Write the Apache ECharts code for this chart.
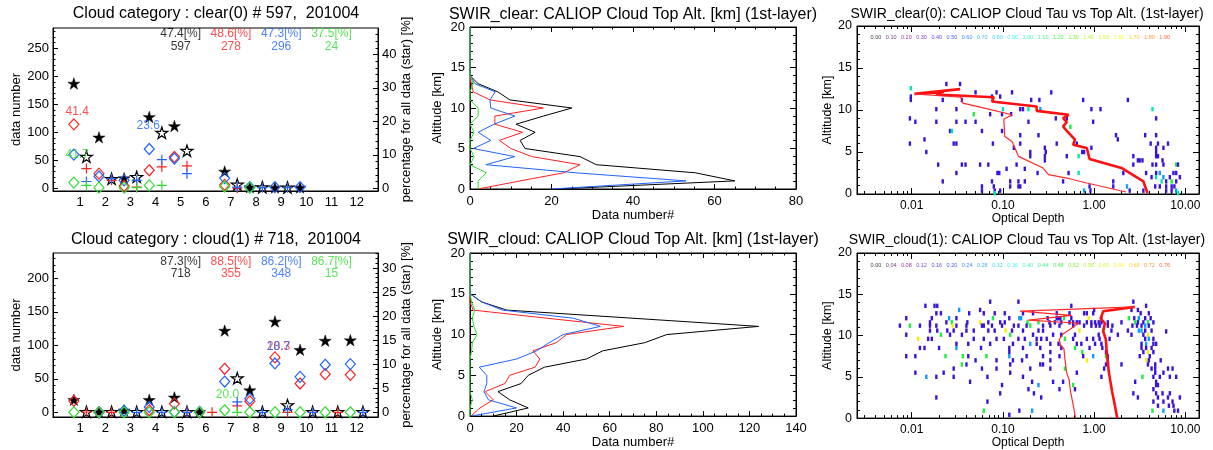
<!DOCTYPE html>
<html>
<head>
<meta charset="utf-8">
<title>CALIOP cloud category statistics</title>
<script src="https://cdn.jsdelivr.net/npm/echarts@6.0.0/dist/echarts.min.js"></script>
<style>
html,body{margin:0;padding:0;background:#ffffff;}
#chart{width:1213px;height:450px;}
</style>
</head>
<body>
<div id="chart"></div>
<script>
const FONT = '"Liberation Sans", Arial, Helvetica, sans-serif';

// ================= DATA =================
const categories = [1,2,3,4,5,6,7,8,9,10,11,12];

// clear(0)  (stars in %, right axis; diamonds / pluses in data number, left axis)
const clearStarAll   = [31.3,15.2,3.0,21.3,18.6,null,5.0,0.3,0.2,0.2,null,null];
const clearStarSub   = [9.4,2.8,3.4,16.6,11.2,null,1.1,0.3,0.2,null,null,null];
const clearDiaRed    = [114,26,4,32,56,null,6,null,null,null,null,null];
const clearDiaBlue   = [60,21,14,70,53,null,18,2,2,2,null,null];
const clearDiaGreen  = [10,1,1,5,null,null,3,1,null,null,null,null];
const clearPlusRed   = [35,14,2,38,40,null,0,null,null,null,null,null];
const clearPlusBlue  = [12,17,14,51,26,null,2,1,1,null,null,null];
const clearPlusGreen = [5,null,1,5,null,null,null,null,null,null,null,null];
const clearHeadPct   = ['47.4[%]','48.6[%]','47.3[%]','37.5[%]'];
const clearHeadNum   = ['597','278','296','24'];
const clearMaxPct    = {red:'41.4', blue:'23.6', green:'41.7'};

// cloud(1)
const cloudStarAll   = [2.6,0.1,0.4,2.6,3.1,0.1,17.0,4.6,18.9,13.0,14.9,15.0];
const cloudStarSub   = [0.1,0.1,0.1,0.1,0.1,null,7.1,0.1,1.5,0.1,0.1,0.1];
const cloudDiaRed    = [17,0,null,3,13,0,65,16.5,82,43,57,56];
const cloudDiaBlue   = [null,0,2.5,8,0.5,0.5,46,20.5,73,53,71,72];
const cloudDiaGreen  = [0,0,0,0,0,0,3,0,0,0,0,0];
const cloudPlusRed   = [0.5,0,null,null,0,0,9.5,null,0,0,0,null];
const cloudPlusBlue  = [null,null,0,0,0,null,15.5,0,4,0,null,0];
const cloudPlusGreen = [null,null,null,null,null,null,0,null,null,null,null,null];
const cloudHeadPct   = ['87.3[%]','88.5[%]','86.2[%]','86.7[%]'];
const cloudHeadNum   = ['718','355','348','15'];
const cloudMaxPct    = {red:'20.3', blue:'18.7', green:'20.0'};

// middle panels: CALIOP cloud top altitude histograms
const altitudes      = [0,1,2,3,4,5,6,7,8,9,10,11,12,13,14,15,16,17,18,19,20];
const clearAltAll    = [21,65,55.3,31,27,13.5,12.3,16,11.3,18,25,9.8,6.8,2.0,0,0,0,0,0,0,0];
const clearAltRed    = [2.0,12.3,23,27,15.2,10,7.2,12.9,6.1,6.1,18,4.9,0.8,0.3,0,0,0,0,0,0,0];
const clearAltBlue   = [20,53,26,3.9,11,0.8,5.1,2,5.9,11,5.1,4.9,6.2,1.2,0,0,0,0,0,0,0];
const clearAltGreen  = [2,2,4,0,1,0,0,1,0,2,2,0,0,0.8,0,0,0,0,0,0,0];
const cloudAltAll    = [10,25,17,12,22,25,32,50,57,75,84.5,124,70,15.8,5,0,0,0,0,0,0];
const cloudAltRed    = [0.4,4.3,10,6.5,15,17,28,30,27,37,41.5,66,33,1.4,0,0,0,0,0,0,0];
const cloudAltBlue   = [0.5,20,7.9,6,7.2,7.2,4,20,28.6,34,40,56,44.4,14,5,0,0,0,0,0,0];
const cloudAltGreen  = [0,0,1,0,0,0,0,0,0.7,1,3,1.7,1,2,0.7,0,0,0,0,0,0];

// right panels: tau vs top altitude, x stored as log10(optical depth)
// cells: [log10(tau), altitude km, colour level 1..5]
const clearCells = [
 [-1.62,13.1,1],[-1.47,13.1,1],
 [-2.01,12.6,3],
 [-1.30,12.1,1],[-1.07,12.1,1],[-0.90,12.1,1],[-0.47,12.1,1],
 [-2.01,11.6,1],[-1.12,11.6,1],[-1.03,11.6,1],
 [-2.01,11.2,1],[-1.66,11.2,1],[-1.45,11.2,1],[-0.69,11.2,1],[-0.60,11.2,1],[-0.12,11.2,1],[0.37,11.2,1],
 [-1.73,10.1,1],[-1.51,10.1,1],[-1.00,10.1,3],[-0.81,10.1,1],[-0.78,10.1,1],[-0.72,10.1,3],[-0.59,10.1,2],[-0.03,10.1,1],[0.07,10.1,1],[0.64,10.1,3],
 [-1.32,9.5,4],[-1.14,9.5,1],[-1.01,9.5,1],[-0.91,9.5,1],
 [-2.02,9.0,1],[-0.42,9.0,1],[-0.30,9.0,1],[0.68,9.0,1],
 [-1.96,8.6,1],[-1.73,8.6,1],[-1.51,8.6,1],[-1.41,8.6,1],[-1.30,8.6,1],[-0.72,8.6,1],[-0.01,8.6,1],
 [-0.26,8.0,4],
 [-1.58,7.5,1],[-1.56,7.5,3],[-1.23,7.5,1],[-1.01,7.5,1],
 [-0.81,7.0,1],[-0.61,7.0,1],[0.24,7.0,1],[0.56,7.0,1],[0.68,7.0,1],
 [-1.86,6.5,1],[0.26,6.5,1],
 [-2.02,6.0,1],[-1.54,6.0,1],[-1.51,6.0,1],[-1.11,6.0,1],[-0.81,6.0,1],[-0.41,6.0,1],[-0.19,6.0,1],[0.62,6.0,1],[0.70,6.0,1],[0.81,6.0,1],
 [-0.88,5.5,1],[-0.54,5.5,1],[-0.03,5.5,1],[0.68,5.5,1],[0.76,5.5,1],
 [-1.84,5.0,1],[-0.70,5.0,1],[-0.53,5.0,1],[-0.13,5.0,1],[-0.11,5.0,1],[0.68,5.0,1],
 [-0.70,4.5,1],[-0.54,4.5,1],[-0.30,4.5,1],[-0.17,4.5,3],[0.43,4.5,1],[0.68,4.5,1],[0.70,4.5,1],
 [-0.54,4.0,1],[0.48,4.0,1],[0.50,4.0,1],[0.53,4.0,1],[0.75,4.0,1],
 [-1.71,3.5,1],[-1.45,3.5,1],[-1.41,3.5,1],[-1.25,3.5,1],[-1.16,3.5,1],[-0.85,3.5,1],[0.43,3.5,1],[0.64,3.5,1],[0.68,3.5,1],[0.76,3.5,1],[0.90,3.5,4],[0.92,3.5,1],
 [-0.96,3.0,1],[-0.76,3.0,1],
 [-1.51,2.5,1],[-1.06,2.5,1],[-1.04,2.5,1],[-0.62,2.5,1],[-0.28,2.5,1],[-0.17,2.5,3],[0.32,2.5,1],[0.57,2.5,1],[0.68,2.5,1],[0.72,2.5,2],[0.87,2.5,1],[0.90,2.5,1],
 [0.63,2.0,1],[0.68,2.0,3],[0.76,2.0,2],[0.83,2.0,1],[0.94,2.0,1],
 [-1.66,1.5,1],[-1.12,1.5,1],[-0.92,1.5,1],[-0.83,1.5,1],[-0.76,1.5,1],[-0.34,1.5,1],[0.21,1.5,1],[0.74,1.5,3],[0.79,1.5,1],[0.85,1.5,4],[0.90,1.5,1],
 [-1.23,0.9,1],[-1.10,0.9,1],[-0.92,0.9,1],[-0.83,0.9,1],[-0.81,0.9,1],[-0.05,0.9,1],[0.21,0.9,1],[0.36,0.9,2],[0.67,0.9,1],[0.72,0.9,1],[0.79,0.9,1],[0.85,0.9,1],[0.88,0.9,1],
 [-1.23,0.4,1],[-1.09,0.4,1],[-1.03,0.4,1],[-0.11,0.4,2],[-0.04,0.4,1],[0.39,0.4,1],[0.54,0.4,1],[0.79,0.4,1],[0.85,0.4,1],[0.90,0.4,2],
 [-1.09,0.1,3],[0.92,0.1,3]
];
const cloudCells = [
 [-1.14,14.1,1],[-0.83,14.1,1],[0.43,14.1,1],
 [-1.85,13.6,1],[-1.75,13.6,1],[-1.72,13.6,1],[-0.25,13.6,1],[0.57,13.6,1],
 [-1.48,13.1,2],[-1.25,13.1,1],[0.00,13.1,1],[0.41,13.1,1],[0.48,13.1,1],
 [-1.73,12.7,1],[-1.68,12.7,1],[-1.37,12.7,1],[-1.21,12.7,1],[-1.09,12.7,1],[-0.98,12.7,1],[-0.78,12.7,1],[-0.67,12.7,1],[-0.41,12.7,1],[-0.27,12.7,1],[-0.11,12.7,1],[-0.08,12.7,1],[-0.01,12.7,1],[0.51,12.7,1],[0.60,12.7,1],
 [-2.06,12.1,1],[-1.78,12.1,1],[-1.59,12.1,2],[-1.51,12.1,1],[-1.11,12.1,4],[-0.93,12.1,1],[-0.82,12.1,2],[-0.80,12.1,2],[-0.51,12.1,1],[-0.41,12.1,1],[-0.39,12.1,1],[-0.37,12.1,1],[-0.33,12.1,4],[-0.25,12.1,1],[-0.06,12.1,5],[0.08,12.1,1],[0.38,12.1,4],[0.44,12.1,1],[0.49,12.1,2],[0.56,12.1,1],[0.62,12.1,1],
 [-1.80,11.6,1],[-1.62,11.6,1],[-1.56,11.6,4],[-1.39,11.6,1],[-1.25,11.6,5],[-1.16,11.6,1],[-1.03,11.6,1],[-0.98,11.6,1],[-0.73,11.6,4],[-0.61,11.6,4],[-0.49,11.6,1],[-0.43,11.6,1],[-0.36,11.6,1],[-0.27,11.6,1],[-0.23,11.6,1],[-0.19,11.6,1],[-0.16,11.6,1],[-0.08,11.6,1],[-0.03,11.6,1],[0.01,11.6,1],[0.05,11.6,1],[0.08,11.6,1],[0.15,11.6,1],[0.30,11.6,1],[0.45,11.6,4],[0.48,11.6,1],[0.54,11.6,1],[0.59,11.6,4],[0.65,11.6,1],
 [-2.13,11.2,1],[-2.02,11.2,4],[-1.91,11.2,1],[-1.80,11.2,1],[-1.73,11.2,1],[-1.55,11.2,5],[-1.51,11.2,1],[-1.40,11.2,1],[-1.23,11.2,1],[-1.21,11.2,1],[-1.12,11.2,1],[-1.01,11.2,1],[-0.88,11.2,1],[-0.83,11.2,1],[-0.74,11.2,1],[-0.70,11.2,4],[-0.56,11.2,1],[-0.48,11.2,1],[-0.38,11.2,1],[-0.23,11.2,1],[-0.11,11.2,1],[-0.03,11.2,1],[0.02,11.2,1],[0.06,11.2,1],[0.15,11.2,1],[0.20,11.2,1],[0.42,11.2,1],[0.47,11.2,1],[0.52,11.2,1],[0.56,11.2,2],[0.60,11.2,1],
 [-1.80,10.6,1],[-1.72,10.6,1],[-1.61,10.6,1],[-1.54,10.6,1],[-1.40,10.6,1],[-1.32,10.6,1],[-1.16,10.6,1],[-1.09,10.6,1],[-0.97,10.6,5],[-0.90,10.6,1],[-0.78,10.6,1],[-0.61,10.6,1],[-0.56,10.6,1],[-0.16,10.6,5],[0.10,10.6,4],[0.19,10.6,1],[0.37,10.6,1],[0.49,10.6,2],[0.52,10.6,2],[0.56,10.6,1],[0.63,10.6,1],[0.79,10.5,1],
 [-2.06,10.1,1],[-1.68,10.1,4],[-1.58,10.1,1],[-1.45,10.1,1],[-0.92,10.1,4],[-0.67,10.1,1],[-0.45,10.1,1],[-0.36,10.1,1],[-0.21,10.1,1],[0.05,10.1,1],[0.26,10.1,1],[0.41,10.1,1],[0.54,10.1,1],[0.59,10.1,5],
 [-1.93,9.6,5],[-1.82,9.6,1],[-1.78,9.6,1],[-1.32,9.6,1],[-1.21,9.6,1],[-1.07,9.6,1],[-0.99,9.6,1],[-0.83,9.6,1],[-0.76,9.6,1],[-0.63,9.6,1],[-0.58,9.6,1],[-0.52,9.6,1],[-0.32,9.6,4],[-0.23,9.6,1],[-0.08,9.6,1],[-0.01,9.6,1],[0.06,9.6,1],[0.17,9.6,1],[0.56,9.6,1],[0.60,9.6,2],[0.65,9.6,1],
 [-1.51,9.0,1],[-1.38,9.0,1],[-1.14,9.0,1],[-0.89,9.0,1],[-0.70,9.0,2],[-0.63,9.0,1],[-0.48,9.0,1],[-0.39,9.0,1],[-0.19,9.0,1],[-0.14,9.0,1],[0.01,9.0,1],[0.08,9.0,1],[0.52,9.0,1],[0.57,9.0,2],[0.65,9.0,1],[0.68,9.0,1],
 [-1.91,8.5,1],[-1.86,8.5,1],[-1.70,8.5,1],[-1.51,8.5,2],[-1.24,8.5,1],[-0.93,8.5,1],[-0.78,8.5,1],[-0.59,8.5,1],[-0.36,8.5,1],[-0.21,8.5,4],[-0.05,8.5,1],[0.09,8.5,1],[0.52,8.5,1],[0.57,8.5,1],[0.63,8.5,1],
 [-0.93,8.0,1],[-0.48,8.0,1],[-0.13,8.0,4],[0.13,8.0,1],[0.54,8.0,1],[0.59,8.0,5],[0.65,8.0,1],
 [-2.06,7.5,1],[-1.96,7.5,1],[-1.63,7.5,4],[-1.44,7.5,4],[-1.38,7.5,1],[-1.18,7.5,4],[-0.93,7.5,2],[-0.74,7.5,1],[-0.56,7.5,1],[-0.38,7.5,1],[-0.12,7.5,1],[-0.01,7.5,2],[0.13,7.5,4],[0.15,7.5,1],[0.50,7.5,1],[0.61,7.5,1],
 [-1.30,7.0,1],[-1.07,7.0,1],[-0.89,7.0,1],[-0.79,7.0,1],[-0.48,7.0,1],[-0.08,7.0,5],[0.15,7.0,1],[0.57,7.0,5],[0.60,7.0,1],[0.73,7.0,1],
 [-1.45,6.5,4],[-1.40,6.5,1],[-0.92,6.5,1],[-0.59,6.5,1],[-0.56,6.5,1],[0.13,6.5,1],[0.30,6.5,1],[0.59,6.5,1],[0.67,6.5,1],
 [-1.54,6.0,1],[-1.23,6.0,1],[-1.07,6.0,1],[-0.70,6.0,1],[-0.48,6.0,1],[-0.32,6.0,4],[0.11,6.0,1],[0.63,6.0,1],[0.67,6.0,1],[0.81,6.0,1],[0.86,6.0,1],
 [-1.96,5.5,1],[-1.65,5.5,1],[-0.92,5.5,1],[-0.19,5.5,1],[0.67,5.5,1],[0.76,5.5,1],
 [-1.84,5.0,2],[-1.73,5.0,1],[-1.54,5.0,1],[-1.17,5.0,1],[-0.78,5.0,1],[0.08,5.0,1],[0.53,5.0,4],[0.65,5.0,1],[0.72,5.0,1],[0.83,5.0,1],[0.90,5.0,1],
 [-1.36,4.4,1],[-0.68,4.4,1],[-0.45,4.4,1],[-0.34,4.4,1],[0.45,4.4,1],[0.68,4.4,1],
 [-1.01,4.0,1],[-0.61,4.0,2],[-0.23,4.0,4],[0.68,4.0,1],[0.70,4.0,1],
 [-0.72,3.5,1],[-0.38,3.5,1],[-0.21,3.5,1],[0.65,3.5,1],
 [-1.03,3.0,1],[-0.66,3.0,1],[0.43,3.0,1],[0.68,3.0,1],[0.75,3.0,1],[0.83,3.0,1],
 [-1.73,2.5,1],[-0.58,2.5,1],[0.48,2.5,1],[0.70,2.5,1],[0.81,2.5,1],[0.94,2.5,1],
 [-1.17,2.0,1],[0.65,2.0,1],[0.76,2.0,1],[0.86,2.0,1],
 [0.70,1.5,1],[0.82,1.5,1],[0.87,1.5,1],
 [-1.21,0.9,4],[-0.82,0.9,1],[-0.68,0.9,2],[0.64,0.9,4],[0.76,0.9,2],[0.88,0.9,1],[0.92,0.9,1],
 [-0.93,0.4,1]
];
// red profile lines: [log10(tau), altitude]
const clearTauMean = [[-1.47,12.48],[-1.97,11.92],[-1.65,12.16],[-1.73,11.84],[-1.10,11.52],[-1.12,11.01],[-0.63,10.42],[-0.63,9.90],[-0.28,9.43],[-0.34,9.03],[-0.30,8.55],[-0.34,8.04],[-0.30,7.52],[-0.21,6.46],[-0.23,5.86],[-0.08,5.47],[-0.05,4.16],[0.30,3.10],[0.54,1.50],[0.585,0.12]];
const clearTauMedian = [[-1.97,11.92],[-1.46,11.52],[-1.44,10.81],[-1.25,10.34],[-0.90,9.43],[-0.99,8.91],[-0.98,6.85],[-0.90,6.26],[-0.86,5.27],[-0.83,4.48],[-0.56,3.09],[-0.50,2.30],[-0.30,1.90],[-0.08,1.31],[0.35,0.24]];
const cloudTauMean = [[0.446,13.47],[0.100,12.95],[0.071,12.08],[0.118,11.49],[0.100,10.50],[0.129,9.50],[0.136,8.32],[0.147,7.13],[0.162,5.54],[0.180,4.36],[0.198,3.17],[0.227,1.58],[0.253,0.0]];
const cloudTauMedian = [[0.446,13.47],[-0.812,12.95],[-0.247,12.44],[-0.721,11.88],[-0.174,11.49],[-0.247,10.89],[-0.338,10.22],[-0.382,9.50],[-0.367,8.79],[-0.331,8.40],[-0.320,7.13],[-0.302,5.54],[-0.272,4.55],[-0.258,3.17],[-0.229,1.58],[-0.203,0.0]];
// colour-bar labels
const clearLegendLabels = ['0.00','0.10','0.20','0.30','0.40','0.50','0.60','0.70','0.80','0.90','1.00','1.10','1.20','1.30','1.40','1.50','1.60','1.70','1.80','1.90'];
const cloudLegendLabels = ['0.00','0.04','0.08','0.12','0.16','0.20','0.24','0.28','0.32','0.36','0.40','0.44','0.48','0.52','0.56','0.60','0.64','0.68','0.72','0.76'];

// ================= STYLE =================
const BLACK = '#000000', RED = '#ff2020', BLUE = '#2063ff', GREEN = '#2fdd2f';
const legendColors = ['#000000','#4a0a5a','#800090','#6a10b8','#3010d8','#1030ff','#1068ff','#10a0ff','#10d0ff','#10f0f0','#10f0a8','#10f068','#20f020','#50f000','#98f000','#d0f000','#f8f000','#ffc000','#ff8000','#ff4000'];
const cellColors = [null,'#3a12dc','#0f9cff','#00e6b4','#1eee3c','#f4f000'];
const AX = {color:'#000', width:1};
const STAR = 'path://M0,-50L11.17,-15.37L47.55,-15.45L18.07,5.87L29.39,40.45L0,19L-29.39,40.45L-18.07,5.87L-47.55,-15.45L-11.17,-15.37Z';
const PLUS = 'path://M5,0L5,10M0,5L10,5';
const TAU_MIN = -2.6, TAU_MAX = 1.15;
const CAT_MIN = -0.08, CAT_MAX = 12.85;

// ================= LAYOUT =================
const grids = [
  {left:53,  top:28,  width:325, height:163},
  {left:53,  top:253, width:325, height:164},
  {left:470, top:27,  width:326, height:162},
  {left:470, top:253, width:326, height:164},
  {left:857, top:26,  width:342, height:168},
  {left:857, top:253, width:342, height:169}
].map(g => Object.assign({show:true, borderColor:'#000', borderWidth:1, containLabel:false}, g));

const nameStyle = (size) => ({fontSize:size, color:'#000', fontFamily:FONT});
const labStyle = (size, extra) => Object.assign({fontSize:size, color:'#000', fontFamily:FONT}, extra||{});
function range(a, b, step, skip) { const r=[]; for (let v=a; v<=b+1e-9; v+=step) { const vv=Math.round(v*1000)/1000; if (!skip || !skip(vv)) r.push(vv);} return r; }

const xAxes = [];
const yAxes = [];
// x0, x1: category axes for A, B
[0,1].forEach(gi => xAxes.push({gridIndex:gi, type:'value', min:CAT_MIN, max:CAT_MAX,
  axisLine:{show:true, onZero:false, lineStyle:AX}, axisTick:{show:false}, splitLine:{show:false},
  axisLabel:labStyle(13, {margin:5, customValues:categories})}));
// x2,x3 (C) ; x4,x5 (D)
function linX(gi, max, name, gap) {
  const base = {gridIndex:gi, type:'value', min:0, max:max, interval:20, splitLine:{show:false},
    axisLine:{show:true, onZero:false, lineStyle:AX},
    axisTick:{show:true, inside:true, length:5, lineStyle:AX},
    minorTick:{show:true, splitNumber:4, length:2.5, lineStyle:AX}};
  xAxes.push(Object.assign({}, base, {position:'bottom', axisLabel:labStyle(13,{margin:6}),
    name:name, nameLocation:'middle', nameGap:gap, nameTextStyle:nameStyle(13)}));
  xAxes.push(Object.assign({}, base, {position:'top', axisLabel:{show:false}}));
}
linX(2, 80, 'Data number#', 20);
linX(3, 140, 'Data number#', 19);
// x6..x9 (E) ; x10..x13 (F)
function logX(gi, gap) {
  const majors = [-2,-1,0,1];
  const minors = [];
  for (let d=-3; d<=1; d++) for (let k=2; k<=9; k++) { const v = d + Math.log10(k); if (v > TAU_MIN && v < TAU_MAX) minors.push(v); }
  const base = {gridIndex:gi, type:'value', min:TAU_MIN, max:TAU_MAX, splitLine:{show:false}};
  xAxes.push(Object.assign({}, base, {position:'bottom', axisLine:{show:true,onZero:false,lineStyle:AX},
    axisTick:{show:true, inside:true, length:6, customValues:majors, lineStyle:AX},
    axisLabel:labStyle(12, {margin:6, customValues:majors, formatter:v => Math.pow(10, v).toFixed(2)}),
    name:'Optical Depth', nameLocation:'middle', nameGap:gap, nameTextStyle:nameStyle(12)}));
  xAxes.push(Object.assign({}, base, {position:'bottom', axisLine:{show:false,onZero:false},
    axisTick:{show:true, inside:true, length:3, customValues:minors, lineStyle:AX}, axisLabel:{show:false}}));
  xAxes.push(Object.assign({}, base, {position:'top', axisLine:{show:true,onZero:false,lineStyle:AX},
    axisTick:{show:true, inside:true, length:6, customValues:majors, lineStyle:AX}, axisLabel:{show:false}}));
  xAxes.push(Object.assign({}, base, {position:'top', axisLine:{show:false,onZero:false},
    axisTick:{show:true, inside:true, length:3, customValues:minors, lineStyle:AX}, axisLabel:{show:false}}));
}
logX(4, 16);
logX(5, 15);

function customY(gi, pos, min, max, majors, minors, name, gap) {
  const base = {gridIndex:gi, type:'value', position:pos, min:min, max:max, splitLine:{show:false}};
  yAxes.push(Object.assign({}, base, {axisLine:{show:true,onZero:false,lineStyle:AX},
    axisTick:{show:true, inside:true, length:5, customValues:majors, lineStyle:AX},
    axisLabel:labStyle(13, {margin:4, customValues:majors}),
    name:name, nameLocation:'middle', nameGap:gap, nameRotate:90, nameTextStyle:nameStyle(13)}));
  yAxes.push(Object.assign({}, base, {axisLine:{show:false,onZero:false},
    axisTick:{show:true, inside:true, length:2.5, customValues:minors, lineStyle:AX}, axisLabel:{show:false}}));
}
const A_MIN = -5, A_MAX = 286, A_TOTAL = 597;
const B_MIN = -7, B_MAX = 238, B_TOTAL = 718;
customY(0, 'left', A_MIN, A_MAX, range(0,250,50), range(10,280,10,v=>v%50===0), 'data number', 28);   // y0,y1
customY(0, 'right', A_MIN*100/A_TOTAL, A_MAX*100/A_TOTAL, range(0,40,10), range(2,46,2,v=>v%10===0), 'percentage for all data (star) [%]', 19); // y2,y3
customY(1, 'left', B_MIN, B_MAX, range(0,200,50), range(10,230,10,v=>v%50===0), 'data number', 28);   // y4,y5
customY(1, 'right', B_MIN*100/B_TOTAL, B_MAX*100/B_TOTAL, range(0,30,5), range(1,33,1,v=>v%5===0), 'percentage for all data (star) [%]', 19);  // y6,y7
function altY(gi, labelSize, gap) {
  const base = {gridIndex:gi, type:'value', min:0, max:20, interval:5, splitLine:{show:false},
    axisLine:{show:true,onZero:false,lineStyle:AX},
    axisTick:{show:true, inside:true, length:6, lineStyle:AX},
    minorTick:{show:true, splitNumber:5, length:3, lineStyle:AX}};
  yAxes.push(Object.assign({}, base, {position:'left', axisLabel:labStyle(labelSize,{margin:5}),
    name:'Altitude [km]', nameLocation:'middle', nameGap:gap, nameRotate:90, nameTextStyle:nameStyle(labelSize)}));
  yAxes.push(Object.assign({}, base, {position:'right', axisLabel:{show:false}}));
}
altY(2, 13, 26);   // y8,y9
altY(3, 13, 26);   // y10,y11
altY(4, 12.5, 17); // y12,y13
altY(5, 12.5, 17); // y14,y15

// ================= SERIES =================
const series = [];
function markers(xi, yi, vals, offset, symbol, size, color, filled, z) {
  series.push({type:'scatter', xAxisIndex:xi, yAxisIndex:yi, symbol:symbol, symbolSize:size, symbolKeepAspect:true,
    silent:true, z:z||2, clip:false,
    itemStyle: filled ? {color:color, borderColor:color, borderWidth:0.5, opacity:1}
                      : {color:'rgba(0,0,0,0)', borderColor:color, borderWidth:1.2, opacity:1},
    data: categories.map((c,i) => vals[i] == null ? null : [c + offset, vals[i]]).filter(p => p)});
}
function texts(xi, yi, items) {
  series.push({type:'scatter', xAxisIndex:xi, yAxisIndex:yi, symbolSize:1, silent:true, z:6, clip:false,
    itemStyle:{color:'rgba(0,0,0,0)'},
    data: items.map(t => ({value:[t.x, t.y], label:{show:true, position:'inside', formatter:t.text,
      color:t.color, fontSize:t.size || 12, fontFamily:FONT}}))});
}
function categoryPanel(xi, yCnt, yPct, d) {
  markers(xi, yPct, d.starAll, -0.25, STAR, 12, BLACK, true, 3);
  markers(xi, yPct, d.starSub, 0.25, STAR, 12, BLACK, false, 3);
  markers(xi, yCnt, d.diaRed, -0.25, 'diamond', [10,11], RED, false, 4);
  markers(xi, yCnt, d.diaBlue, -0.25, 'diamond', [10,11], BLUE, false, 4);
  markers(xi, yCnt, d.diaGreen, -0.25, 'diamond', [10,11], GREEN, false, 4);
  markers(xi, yCnt, d.plusRed, 0.25, PLUS, 10, RED, false, 4);
  markers(xi, yCnt, d.plusBlue, 0.25, PLUS, 10, BLUE, false, 4);
  markers(xi, yCnt, d.plusGreen, 0.25, PLUS, 10, GREEN, false, 4);
  const cols = [BLACK, RED, BLUE, GREEN];
  const head = [];
  d.headPct.forEach((t,i) => head.push({x:5+2*i, y:d.headY[0], text:t, color:cols[i]}));
  d.headNum.forEach((t,i) => head.push({x:5+2*i, y:d.headY[1], text:t, color:cols[i]}));
  texts(xi, yCnt, head.concat(d.maxLabels));
}
categoryPanel(0, 0, 2, {starAll:clearStarAll, starSub:clearStarSub, diaRed:clearDiaRed, diaBlue:clearDiaBlue,
  diaGreen:clearDiaGreen, plusRed:clearPlusRed, plusBlue:clearPlusBlue, plusGreen:clearPlusGreen,
  headPct:clearHeadPct, headNum:clearHeadNum, headY:[276,252],
  maxLabels:[{x:0.88, y:136, text:clearMaxPct.red, color:RED},
             {x:3.71, y:112, text:clearMaxPct.blue, color:BLUE},
             {x:0.88, y:59, text:clearMaxPct.green, color:GREEN}]});
categoryPanel(1, 4, 6, {starAll:cloudStarAll, starSub:cloudStarSub, diaRed:cloudDiaRed, diaBlue:cloudDiaBlue,
  diaGreen:cloudDiaGreen, plusRed:cloudPlusRed, plusBlue:cloudPlusBlue, plusGreen:cloudPlusGreen,
  headPct:cloudHeadPct, headNum:cloudHeadNum, headY:[225,207],
  maxLabels:[{x:8.89, y:98, text:cloudMaxPct.red, color:RED},
             {x:8.89, y:98, text:cloudMaxPct.blue, color:BLUE},
             {x:6.86, y:26, text:cloudMaxPct.green, color:GREEN}]});

function profile(xi, yi, vals, color) {
  series.push({type:'line', xAxisIndex:xi, yAxisIndex:yi, symbol:'none', silent:true, z:3,
    lineStyle:{color:color, width:1}, data: altitudes.map((a,i) => [vals[i], a])});
}
profile(2, 8, clearAltAll, BLACK); profile(2, 8, clearAltRed, RED); profile(2, 8, clearAltBlue, BLUE); profile(2, 8, clearAltGreen, GREEN);
profile(4, 10, cloudAltAll, BLACK); profile(4, 10, cloudAltRed, RED); profile(4, 10, cloudAltBlue, BLUE); profile(4, 10, cloudAltGreen, GREEN);

function tauPanel(xi, yi, cells, mean, median, labels, legendAlt) {
  series.push({type:'scatter', xAxisIndex:xi, yAxisIndex:yi, symbol:'rect', symbolSize:[2.4,4.4], silent:true, z:2,
    itemStyle:{color: p => cellColors[p.value[2]], opacity:1}, data: cells});
  series.push({type:'line', xAxisIndex:xi, yAxisIndex:yi, symbol:'none', silent:true, z:4,
    lineStyle:{color:'#ff1010', width:2.6}, data: mean});
  series.push({type:'line', xAxisIndex:xi, yAxisIndex:yi, symbol:'none', silent:true, z:4,
    lineStyle:{color:'#ff2a2a', width:1.2}, data: median});
  series.push({type:'scatter', xAxisIndex:xi, yAxisIndex:yi, symbolSize:1, silent:true, z:5,
    itemStyle:{color:'rgba(0,0,0,0)'},
    data: labels.map((t,i) => ({value:[-2.392 + i*0.1666, legendAlt],
      label:{show:true, position:'inside', formatter:t, color:legendColors[i], fontSize:5.5, fontFamily:FONT}}))});
}
tauPanel(6, 12, clearCells, clearTauMean, clearTauMedian, clearLegendLabels, 18.6);
tauPanel(10, 14, cloudCells, cloudTauMean, cloudTauMedian, cloudLegendLabels, 18.5);

// ================= TITLES =================
const titles = [
  {x:216, y:14, size:16, text:'Cloud category : clear(0) # 597,  201004'},
  {x:216, y:240, size:16, text:'Cloud category : cloud(1) # 718,  201004'},
  {x:633, y:15, size:16, text:'SWIR_clear: CALIOP Cloud Top Alt. [km] (1st-layer)'},
  {x:633, y:240, size:16, text:'SWIR_cloud: CALIOP Cloud Top Alt. [km] (1st-layer)'},
  {x:1027, y:14, size:14, text:'SWIR_clear(0): CALIOP Cloud Tau vs Top Alt. (1st-layer)'},
  {x:1027, y:240, size:14, text:'SWIR_cloud(1): CALIOP Cloud Tau vs Top Alt. (1st-layer)'}
];
const graphic = titles.map(t => ({type:'text', x:t.x, y:t.y, silent:true,
  style:{text:t.text, fill:'#000', font:t.size + 'px ' + FONT, textAlign:'center', textVerticalAlign:'middle',
         align:'center', verticalAlign:'middle'}}));

const chart = echarts.init(document.getElementById('chart'), null, {renderer:'canvas'});
chart.setOption({
  animation:false,
  backgroundColor:'#ffffff',
  textStyle:{fontFamily:FONT},
  grid:grids, xAxis:xAxes, yAxis:yAxes, series:series, graphic:graphic
});
</script>
</body>
</html>
